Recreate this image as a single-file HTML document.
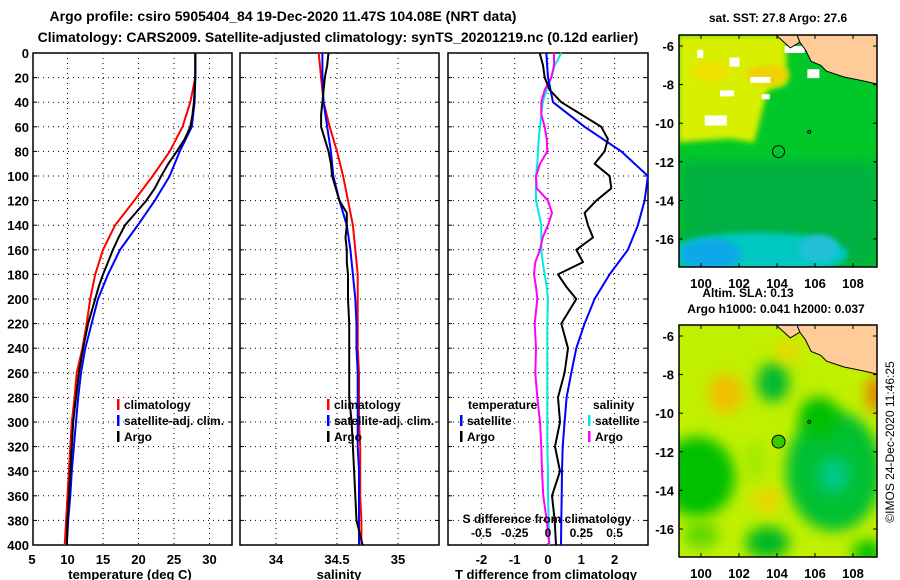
<!DOCTYPE html>
<html><head><meta charset="utf-8">
<style>
html,body{margin:0;padding:0;background:#fff;}
svg{display:block;font-family:"Liberation Sans",sans-serif;font-weight:bold;}
</style></head>
<body>
<svg id="chart" width="900" height="580" viewBox="0 0 900 580" xmlns="http://www.w3.org/2000/svg">
<defs>
<filter id="blur1" x="-50%" y="-50%" width="200%" height="200%"><feGaussianBlur stdDeviation="7"/></filter>
<filter id="blur2" x="-50%" y="-50%" width="200%" height="200%"><feGaussianBlur stdDeviation="3"/></filter>
<clipPath id="clipM1"><rect x="679" y="35" width="198" height="232"/></clipPath>
<clipPath id="clipM2"><rect x="679" y="325" width="198" height="232"/></clipPath>
</defs>
<text x="283" y="21" text-anchor="middle" font-size="14">Argo profile: csiro 5905404_84 19-Dec-2020 11.47S 104.08E (NRT data)</text>
<text x="338" y="42" text-anchor="middle" font-size="14">Climatology: CARS2009. Satellite-adjusted climatology: synTS_20201219.nc (0.12d earlier)</text>
<g id="g1"></g>
<g id="g2"></g>
<g id="g3"></g>
<g id="m1"></g>
<g id="m2"></g>
<text x="778" y="22" text-anchor="middle" font-size="12">sat. SST: 27.8 Argo: 27.6</text>
<text x="748" y="297" text-anchor="middle" font-size="12">Altim. SLA: 0.13</text>
<text x="776" y="313" text-anchor="middle" font-size="12">Argo h1000: 0.041 h2000: 0.037</text>
<text transform="translate(894,442) rotate(-90)" text-anchor="middle" font-size="12" font-weight="normal">©IMOS 24-Dec-2020 11:46:25</text>
</svg>
<script>
// ---------- data ----------
const depths = [0,20,40,60,80,100,120,140,160,180,200,220,240,260,280,300,320,340,360,380,400];
const tempClim = [28,28,27.3,26.2,24.4,22,19.4,16.7,15,13.9,13.2,12.7,12.1,11.3,11,10.6,10.4,10.2,10,9.8,9.6];
const tempSat = [28,28,27.9,27.5,25.8,24.4,22.3,19.9,17.4,15.7,14.3,13.4,12.5,11.9,11.5,11.2,10.9,10.6,10.4,10.1,9.9];
const argoDepths = [0,10,20,30,40,50,60,70,80,90,100,110,120,130,140,150,160,170,180,190,200,220,240,260,280,300,320,340,360,380,400];
const tempArgo = [28,28,28,27.9,27.8,27.6,27.3,26.5,25.4,24.2,23.2,22.3,21.1,19.6,18.1,17.2,16.4,15.7,15,14.4,13.9,12.9,12.2,11.6,11.2,10.8,10.6,10.4,10.2,10,9.9];
const salClim = [34.35,34.37,34.39,34.44,34.5,34.55,34.59,34.63,34.65,34.67,34.67,34.67,34.67,34.68,34.68,34.68,34.69,34.69,34.69,34.7,34.7];
const salSat = [34.38,34.38,34.39,34.42,34.45,34.47,34.52,34.58,34.61,34.63,34.65,34.66,34.66,34.67,34.67,34.67,34.67,34.68,34.68,34.68,34.68];
const salArgo = [34.43,34.42,34.4,34.39,34.38,34.37,34.37,34.4,34.43,34.45,34.46,34.49,34.52,34.58,34.58,34.57,34.58,34.58,34.59,34.59,34.59,34.6,34.6,34.6,34.6,34.62,34.63,34.64,34.65,34.66,34.71];
const tDiffSat = [-0.05,0,0.15,1.1,2.2,3.0,2.9,2.7,2.4,1.85,1.4,1.1,0.85,0.7,0.56,0.5,0.44,0.42,0.41,0.4,0.39];
const tDiffArgo = [-0.25,-0.15,-0.1,0.05,0.4,1.0,1.6,1.8,1.7,1.4,1.85,1.9,1.45,1.1,1.2,1.35,0.85,1.05,0.3,0.55,0.85,0.4,0.6,0.5,0.3,0.36,0.21,0.36,0.12,0.2,0.24];
const sDiffSat = [0.1,0.05,0.025,-0.01,-0.04,-0.05,-0.06,-0.07,-0.075,-0.08,-0.09,-0.09,-0.09,-0.07,-0.05,-0.05,-0.05,-0.04,-0.025,-0.01,0,-0.005,-0.005,-0.005,-0.005,-0.005,-0.005,0,0,0.005,0.01];
const sDiffArgo = [0.045,0.045,0.025,-0.025,-0.05,-0.05,-0.025,-0.01,-0.005,-0.06,-0.09,-0.085,0.0,0.03,0.0,-0.04,-0.06,-0.095,-0.105,-0.09,-0.08,-0.1,-0.09,-0.095,-0.08,-0.06,-0.05,-0.045,-0.035,-0.01,0.01];
const depthTicks = [0,20,40,60,80,100,120,140,160,180,200,220,240,260,280,300,320,340,360,380,400];
const tempTicks = [5,10,15,20,25,30];
const salTicks = [34,34.5,35];
const tdTicks = [-2,-1,0,1,2];
const sdTicks = [-0.5,-0.25,0,0.25,0.5];
const sdTickLabels = ["-0.5","-0.25","0","0.25","0.5"];
const lonTicks = [100,102,104,106,108];
const latTicks = [-6,-8,-10,-12,-14,-16];
const argoLon = 104.08, argoLat = -11.47;

const NS='http://www.w3.org/2000/svg';
function mk(parent,tag,attrs,txt){const e=document.createElementNS(NS,tag);for(const k in attrs)e.setAttribute(k,attrs[k]);if(txt!==undefined)e.textContent=txt;parent.appendChild(e);return e;}
const Y0=53,Y1=545;
const yD=d=>Y0+(d/400)*(Y1-Y0);

function frame(g,x0,x1,xt,sx,showDepth){
  depthTicks.forEach(d=>{
    if(d>0&&d<400){const l=mk(g,'line',{x1:x0,x2:x1,y1:yD(d),y2:yD(d),stroke:'#000','stroke-width':1,'stroke-dasharray':'1,4'});
    }
    mk(g,'line',{x1:x0,x2:x0+4,y1:yD(d),y2:yD(d),stroke:'#000'});
    mk(g,'line',{x1:x1-4,x2:x1,y1:yD(d),y2:yD(d),stroke:'#000'});
    if(showDepth){const t=mk(g,'text',{x:x0-4,y:yD(d)+5,'text-anchor':'end','font-size':13},String(d));
    }
  });
  xt.forEach(v=>{const x=sx(v);if(x>x0+1&&x<x1-1){
    const l=mk(g,'line',{x1:x,x2:x,y1:Y0,y2:Y1,stroke:'#000','stroke-dasharray':'1,4'});
    }});
  const r=mk(g,'rect',{x:x0,y:Y0,width:x1-x0,height:Y1-Y0,fill:'none',stroke:'#000','stroke-width':1.5});
  
}
function line(g,xs,ds,sx,color,name){
  const pts=xs.map((v,i)=>sx(v).toFixed(1)+','+yD(ds[i]).toFixed(1)).join(' ');
  const p=mk(g,'polyline',{points:pts,fill:'none',stroke:color,'stroke-width':2,'stroke-linejoin':'round'});
  
}
function legend(g,x,y,items){
  items.forEach((it,i)=>{
    mk(g,'rect',{x:x,y:y+i*16-10,width:2.5,height:11,fill:it[1]});
    const t=mk(g,'text',{x:x+7,y:y+i*16,'font-size':12},it[0]);
    
  });
}
(function(){const g=document.getElementById('g1');const x0=33,x1=232;const sx=v=>32+(v-5)*7.1;
 frame(g,x0,x1,tempTicks,sx,true);
 line(g,tempClim,depths,sx,'#ff0000','temp-climatology-line');
 line(g,tempSat,depths,sx,'#0000ff','temp-satellite-line');
 line(g,tempArgo,argoDepths,sx,'#000000','temp-argo-line');
 tempTicks.forEach(v=>{const t=mk(g,'text',{x:sx(v),y:564,'text-anchor':'middle','font-size':13},String(v));});
 const a=mk(g,'text',{x:130,y:579,'text-anchor':'middle','font-size':13},'temperature (deg C)');
 legend(g,117,409,[['climatology','#ff0000'],['satellite-adj. clim.','#0000ff'],['Argo','#000']]);
})();
(function(){const g=document.getElementById('g2');const x0=240,x1=439;const sx=v=>276+(v-34)*122;
 frame(g,x0,x1,salTicks,sx,false);
 line(g,salClim,depths,sx,'#ff0000','sal-climatology-line');
 line(g,salSat,depths,sx,'#0000ff','sal-satellite-line');
 line(g,salArgo,argoDepths,sx,'#000000','sal-argo-line');
 salTicks.forEach(v=>{const t=mk(g,'text',{x:sx(v),y:564,'text-anchor':'middle','font-size':13},String(v));});
 const a=mk(g,'text',{x:339,y:579,'text-anchor':'middle','font-size':13},'salinity');
 legend(g,327,409,[['climatology','#ff0000'],['satellite-adj. clim.','#0000ff'],['Argo','#000']]);
})();
(function(){const g=document.getElementById('g3');const x0=448,x1=648;const sx=v=>548+v*33.3;const ss=v=>548+v*133.2;
 frame(g,x0,x1,tdTicks,sx,false);
 line(g,sDiffSat,argoDepths,ss,'#00e8e8','sdiff-satellite-line');
 line(g,sDiffArgo,argoDepths,ss,'#ff00ff','sdiff-argo-line');
 line(g,tDiffSat,depths,sx,'#0000ff','tdiff-satellite-line');
 line(g,tDiffArgo,argoDepths,sx,'#000000','tdiff-argo-line');
 tdTicks.forEach(v=>{const t=mk(g,'text',{x:sx(v),y:564,'text-anchor':'middle','font-size':13},String(v));});
 sdTicks.forEach((v,i)=>{const t=mk(g,'text',{x:ss(v),y:537,'text-anchor':'middle','font-size':12},sdTickLabels[i]);});
 const s=mk(g,'text',{x:547,y:523,'text-anchor':'middle','font-size':12},'S difference from climatology');
 const a=mk(g,'text',{x:546,y:579,'text-anchor':'middle','font-size':13},'T difference from climatology');
 const t1=mk(g,'text',{x:468,y:409,'font-size':12},'temperature');
 legend(g,460,425,[['satellite','#0000ff'],['Argo','#000']]);
 const t2=mk(g,'text',{x:593,y:409,'font-size':12},'salinity');
 legend(g,588,425,[['satellite','#00e8e8'],['Argo','#ff00ff']]);
})();
function drawMap(id,top,kind){
  const g=document.getElementById(id);
  const lx=v=>701+(v-100)*19, ly=v=>top+11+(-6-v)*19.3;
  const cg=mk(g,'g',{'clip-path':'url(#clipM'+(kind)+')'});
  if(kind===1){
    mk(cg,'rect',{x:679,y:top,width:198,height:232,fill:'#00c828'});
    mk(cg,'rect',{x:679,y:ly(-12),width:198,height:ly(-17.5)-ly(-12),fill:'#00b040',filter:'url(#blur1)'});
    mk(cg,'ellipse',{cx:lx(103),cy:ly(-16.8),rx:90,ry:22,fill:'#00c8c0',filter:'url(#blur2)'});
    mk(cg,'ellipse',{cx:lx(100.5),cy:ly(-16.8),rx:30,ry:16,fill:'#10a8e8',filter:'url(#blur2)'});
    mk(cg,'ellipse',{cx:lx(106.2),cy:ly(-16.5),rx:20,ry:14,fill:'#20c0d8',filter:'url(#blur2)'});
    mk(cg,'polygon',{points:[[98.8,-5.4],[104.5,-5.4],[104.5,-8],[103.5,-8.3],[102.8,-11],[101.5,-10.8],[98.8,-11]].map(p=>lx(p[0])+','+ly(p[1])).join(' '),fill:'#d8f000',filter:'url(#blur2)'});
    mk(cg,'ellipse',{cx:lx(103.5),cy:ly(-7.5),rx:22,ry:10,fill:'#f0d000',filter:'url(#blur2)'});
    mk(cg,'ellipse',{cx:lx(100.5),cy:ly(-7.3),rx:18,ry:10,fill:'#f0e000',filter:'url(#blur2)'});
    [[100.2,-9.6,22,10],[102.6,-7.6,20,6],[105.6,-7.2,12,9],[104.4,-6.0,20,7],[101,-8.3,14,6],[101.5,-6.6,10,9],[99.8,-6.2,6,8],[103.2,-8.5,8,5]].forEach(w=>{
      mk(cg,'rect',{x:lx(w[0]),y:ly(w[1]),width:w[2],height:w[3],fill:'#ffffff'});});
  } else {
    mk(cg,'rect',{x:679,y:top,width:198,height:232,fill:'#c0f000'});
    [[99.8,-13.3,38,40,'#00c000'],[103.8,-8.4,16,20,'#00b830'],[107,-13,48,60,'#00c030'],[106.2,-10.2,20,20,'#00c000'],[103.5,-16.7,22,16,'#00b820'],[108.8,-17.2,16,12,'#00c000'],[100,-16.3,18,14,'#60d800'],[108.5,-6.3,18,12,'#30c800'],[102.8,-12.5,10,20,'#a0e800']].forEach(b=>{
      mk(cg,'ellipse',{cx:lx(b[0]),cy:ly(b[1]),rx:b[2],ry:b[3],fill:b[4],filter:'url(#blur1)'});});
    mk(cg,'ellipse',{cx:lx(107),cy:ly(-13.2),rx:16,ry:18,fill:'#00c888',filter:'url(#blur1)'});
    [[101.3,-9,18,20,'#f0c000'],[103.5,-14.5,14,12,'#f0d000'],[109.2,-9,10,18,'#e88000'],[104.5,-6.8,14,10,'#e8d800']].forEach(b=>{
      mk(cg,'ellipse',{cx:lx(b[0]),cy:ly(b[1]),rx:b[2],ry:b[3],fill:b[4],filter:'url(#blur1)'});});
  }
  const land=[[105.0,-5.3],[109.4,-5.3],[109.4,-8.0],[108.5,-7.8],[107.5,-7.6],[106.6,-7.3],[106.3,-7.0],[105.8,-6.8],[105.5,-6.2],[105.2,-5.8]];
  const lp=mk(cg,'polygon',{points:land.map(p=>lx(p[0])+','+ly(p[1])).join(' '),fill:'#ffcc99',stroke:'#000','stroke-width':1});
  
  mk(cg,'polygon',{points:[[103.8,-5.3],[105,-5.3],[105.2,-5.8],[104.7,-6.1]].map(p=>lx(p[0])+','+ly(p[1])).join(' '),fill:'#ffcc99',stroke:'#000','stroke-width':1});
  mk(cg,'circle',{cx:lx(105.7),cy:ly(-10.45),r:1.5,fill:'none',stroke:'#000'});
  const mc=mk(g,'circle',{cx:lx(argoLon),cy:ly(argoLat),r:kind===1?6:6.5,fill:kind===1?'none':'#33cc00',stroke:'#000','stroke-width':1});
  
  const fr=mk(g,'rect',{x:679,y:top,width:198,height:232,fill:'none',stroke:'#000','stroke-width':1.5});
  
  lonTicks.forEach(v=>{mk(g,'line',{x1:lx(v),x2:lx(v),y1:top,y2:top+4,stroke:'#000'});mk(g,'line',{x1:lx(v),x2:lx(v),y1:top+228,y2:top+232,stroke:'#000'});
    const t=mk(g,'text',{x:lx(v),y:top+253,'text-anchor':'middle','font-size':13},String(v));});
  latTicks.forEach(v=>{mk(g,'line',{x1:679,x2:683,y1:ly(v),y2:ly(v),stroke:'#000'});mk(g,'line',{x1:873,x2:877,y1:ly(v),y2:ly(v),stroke:'#000'});
    const t=mk(g,'text',{x:674,y:ly(v)+5,'text-anchor':'end','font-size':13},String(v));});
}
drawMap('m1',35,1);
drawMap('m2',325,2);
</script>
</body></html>
